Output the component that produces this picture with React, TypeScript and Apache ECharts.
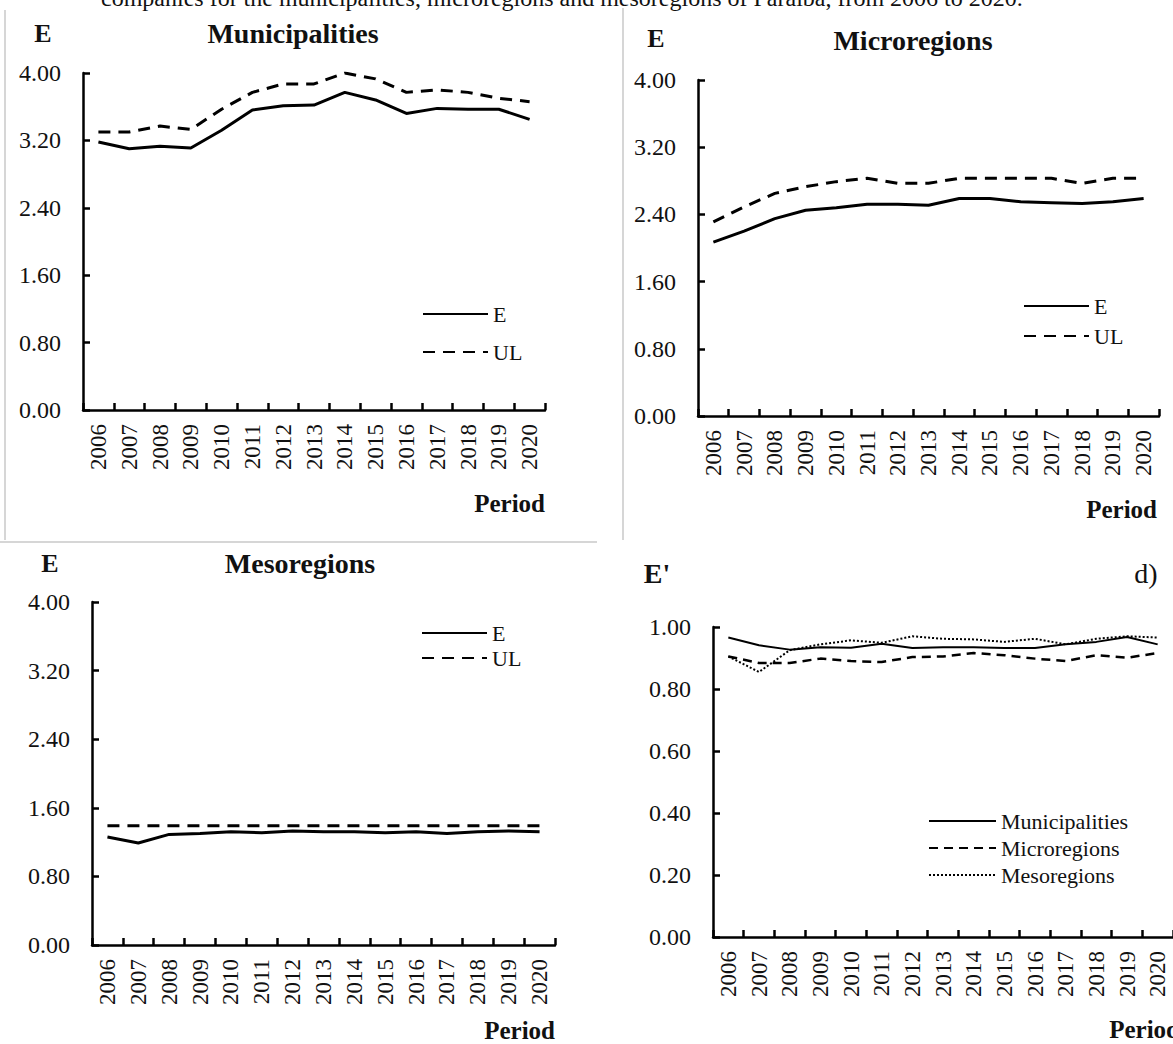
import React, { useEffect, useRef } from "react";
import * as echarts from "echarts";

const years = ["2006","2007","2008","2009","2010","2011","2012","2013","2014","2015","2016","2017","2018","2019","2020"];

const munE = [3.18, 3.10, 3.13, 3.11, 3.32, 3.56, 3.61, 3.62, 3.77, 3.68, 3.52, 3.58, 3.57, 3.57, 3.45];
const munUL = [3.30, 3.30, 3.37, 3.33, 3.57, 3.77, 3.87, 3.87, 4.00, 3.93, 3.77, 3.80, 3.77, 3.70, 3.66];

const micE = [2.07, 2.20, 2.35, 2.45, 2.48, 2.52, 2.52, 2.51, 2.59, 2.59, 2.55, 2.54, 2.53, 2.55, 2.59];
const micUL = [2.31, 2.49, 2.65, 2.73, 2.79, 2.83, 2.77, 2.77, 2.83, 2.83, 2.83, 2.83, 2.77, 2.83, 2.83];

const mesE = [1.26, 1.19, 1.29, 1.30, 1.32, 1.31, 1.33, 1.32, 1.32, 1.31, 1.32, 1.30, 1.32, 1.33, 1.32];
const mesUL = [1.39, 1.39, 1.39, 1.39, 1.39, 1.39, 1.39, 1.39, 1.39, 1.39, 1.39, 1.39, 1.39, 1.39, 1.39];

const effMun = [0.966, 0.941, 0.927, 0.935, 0.933, 0.946, 0.932, 0.935, 0.935, 0.932, 0.932, 0.944, 0.952, 0.968, 0.944];
const effMic = [0.905, 0.884, 0.884, 0.898, 0.890, 0.887, 0.903, 0.905, 0.916, 0.909, 0.898, 0.890, 0.909, 0.901, 0.916];
const effMes = [0.905, 0.855, 0.925, 0.944, 0.957, 0.949, 0.970, 0.962, 0.960, 0.952, 0.962, 0.944, 0.962, 0.970, 0.966];

const eTicksMax = 4;
const eTicksInterval = 0.8;
const effMax = 1;
const effInterval = 0.2;

const FONT = '"Liberation Serif", "Times New Roman", serif';

export default function App() {
  const ref = useRef<HTMLDivElement>(null);
  useEffect(() => {
    if (!ref.current) return;
    const chart = echarts.init(ref.current, undefined, { renderer: "svg" });

    const grids = [
      { left: 83, top: 73, width: 462, height: 337 },
      { left: 698, top: 80, width: 461, height: 336 },
      { left: 92, top: 602, width: 463, height: 343 },
      { left: 713, top: 627, width: 462, height: 310 },
    ];

    const axisLineStyle = { color: "#000", width: 2.5 };
    const mkX = (i: number) => ({
      type: "category",
      gridIndex: i,
      data: years,
      boundaryGap: true,
      axisLine: { show: true, lineStyle: axisLineStyle },
      axisTick: { show: true, inside: true, length: 7, interval: 0, lineStyle: axisLineStyle },
      axisLabel: { interval: 0, rotate: 90, margin: 14, fontSize: 23, fontFamily: FONT, color: "#111" },
      splitLine: { show: false },
    });
    const mkY = (i: number, max: number, interval: number) => ({
      type: "value",
      gridIndex: i,
      min: 0,
      max,
      interval,
      axisLine: { show: true, lineStyle: axisLineStyle },
      axisTick: { show: true, inside: true, length: 7, lineStyle: axisLineStyle },
      axisLabel: {
        margin: 22,
        fontSize: 24,
        fontFamily: FONT,
        color: "#111",
        formatter: (v: number) => v.toFixed(2),
      },
      splitLine: { show: false },
    });

    const solid = { color: "#000", width: 3, type: "solid" };
    const dashed = { color: "#000", width: 3, type: [12, 8] };

    const mkSeries = (name: string, data: number[], idx: number, ls: any) => ({
      type: "line",
      name,
      data,
      xAxisIndex: idx,
      yAxisIndex: idx,
      symbol: "none",
      showSymbol: false,
      lineStyle: ls,
      itemStyle: { color: "#000" },
      silent: true,
    });

    const legendText = { fontSize: 22, fontFamily: FONT, color: "#111", lineHeight: 22 };
    const mkLegend = (names: string[], left: number, top: number, gap: number, w: number) => ({
      orient: "vertical",
      left,
      top,
      itemGap: gap,
      itemWidth: w,
      itemHeight: 14,
      data: names,
      textStyle: legendText,
      itemStyle: { color: "transparent", borderColor: "transparent", borderWidth: 0, opacity: 0 },
      selectedMode: false,
      padding: 0,
    });

    const txt = (text: string, x: number, y: number, size: number, bold: boolean, align = "center") => ({
      type: "text",
      x,
      y,
      silent: true,
      style: {
        text,
        font: `${bold ? "bold " : ""}${size}px ${FONT}`,
        fill: "#111",
        align,
        verticalAlign: "middle",
        textAlign: align,
        textVerticalAlign: "middle",
      },
    });
    const grayLine = (x1: number, y1: number, x2: number, y2: number) => ({
      type: "line",
      silent: true,
      shape: { x1, y1, x2, y2 },
      style: { stroke: "#c8c8c8", lineWidth: 1.5 },
    });

    chart.setOption({
      animation: false,
      backgroundColor: "#fff",
      grid: grids,
      xAxis: [mkX(0), mkX(1), mkX(2), mkX(3)],
      yAxis: [
        mkY(0, eTicksMax, eTicksInterval),
        mkY(1, eTicksMax, eTicksInterval),
        mkY(2, eTicksMax, eTicksInterval),
        mkY(3, effMax, effInterval),
      ],
      legend: [
        mkLegend(["E", "UL"], 422, 303, 16, 65),
        mkLegend(["E", "UL"], 1023, 295, 8, 65),
        mkLegend(["E", "UL"], 421, 622, 3, 65),
        mkLegend(["Municipalities", "Microregions", "Mesoregions"], 928, 810, 5, 67),
      ],
      series: [
        mkSeries("E", munE, 0, solid),
        mkSeries("UL", munUL, 0, dashed),
        mkSeries("E", micE, 1, solid),
        mkSeries("UL", micUL, 1, dashed),
        mkSeries("E", mesE, 2, solid),
        mkSeries("UL", mesUL, 2, dashed),
        mkSeries("Municipalities", effMun, 3, { color: "#000", width: 2, type: "solid" }),
        mkSeries("Microregions", effMic, 3, { color: "#000", width: 2.5, type: [9, 6] }),
        mkSeries("Mesoregions", effMes, 3, { color: "#000", width: 2, type: [2, 2] }),
      ],
      graphic: [
        grayLine(5, 10, 5, 540),
        grayLine(623, 8, 623, 540),
        grayLine(0, 542, 597, 542),
        txt("companies for the municipalities, microregions and mesoregions of Paraíba, from 2006 to 2020.", 101, -2, 24, false, "left"),
        txt("E", 43, 33, 26, true),
        txt("Municipalities", 293, 33, 28, true),
        txt("E", 656, 38, 26, true),
        txt("Microregions", 913, 40, 28, true),
        txt("E", 50, 563, 26, true),
        txt("Mesoregions", 300, 563, 28, true),
        txt("E'", 657, 573, 28, true),
        txt("d)", 1146, 573, 28, false),
        txt("Period", 545, 503, 25, true, "right"),
        txt("Period", 1157, 509, 25, true, "right"),
        txt("Period", 555, 1030, 25, true, "right"),
        txt("Period", 1180, 1029, 25, true, "right"),
      ],
    });
    return () => chart.dispose();
  }, []);
  return (
    <div
      ref={ref}
      style={{ position: "absolute", left: 0, top: 0, width: 1173, height: 1044 }}
    />
  );
}
